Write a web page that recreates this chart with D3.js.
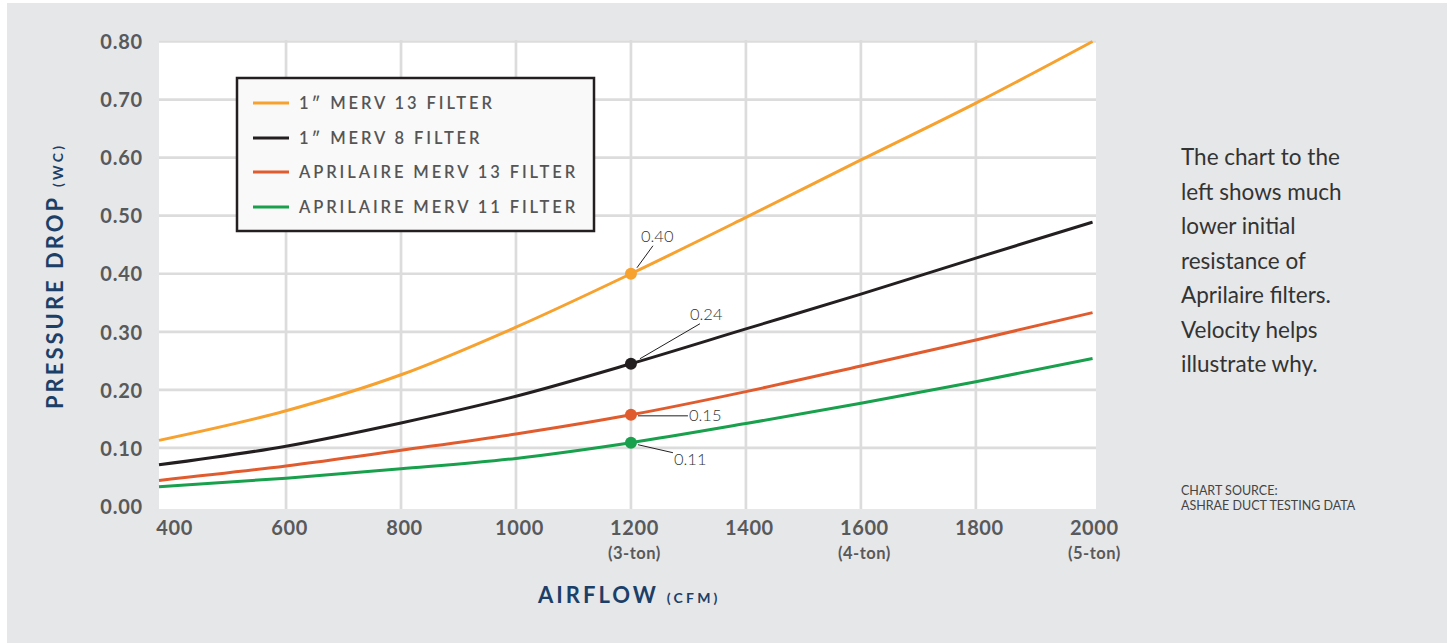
<!DOCTYPE html>
<html>
<head>
<meta charset="utf-8">
<script src="https://cdn.jsdelivr.net/npm/d3@7/dist/d3.min.js"></script>
<style>
  html, body { margin: 0; padding: 0; background: #ffffff; }
  svg { display: block; }
</style>
</head>
<body>
<svg id="chart" width="1450" height="643"></svg>
<script>
// ---------------- data ----------------
const cfm = [379, 600, 800, 1000, 1200, 1400, 1600, 1800, 2003];
const merv13OneInch = [0.113, 0.164, 0.226, 0.308, 0.400, 0.497, 0.596, 0.694, 0.800];
const merv8OneInch  = [0.071, 0.103, 0.143, 0.189, 0.245, 0.305, 0.365, 0.427, 0.489];
const aprilaire13   = [0.044, 0.069, 0.096, 0.124, 0.157, 0.197, 0.241, 0.286, 0.333];
const aprilaire11   = [0.033, 0.048, 0.064, 0.082, 0.109, 0.142, 0.177, 0.214, 0.254];
const seriesNames = ["1\u2033 MERV 13 FILTER", "1\u2033 MERV 8 FILTER", "APRILAIRE MERV 13 FILTER", "APRILAIRE MERV 11 FILTER"];
const seriesColors = ["#f7a12f", "#231f20", "#e05c2e", "#18a04d"];
const highlightCfm = 1200;
const highlightLabels = ["0.40", "0.24", "0.15", "0.11"];
const xTicks = [400, 600, 800, 1000, 1200, 1400, 1600, 1800, 2000];
const xSubLabels = {1200: "(3-ton)", 1600: "(4-ton)", 2000: "(5-ton)"};
const yTicks = [0, 0.1, 0.2, 0.3, 0.4, 0.5, 0.6, 0.7, 0.8];
const sideText = ["The chart to the", "left shows much", "lower initial", "resistance of", "Aprilaire filters.", "Velocity helps", "illustrate why."];
const sourceText = ["CHART SOURCE:", "ASHRAE DUCT TESTING DATA"];

const seriesValues = [merv13OneInch, merv8OneInch, aprilaire13, aprilaire11];

// ---------------- layout ----------------
const svg = d3.select("#chart");
const plotLeft = 159, plotRight = 1096, plotTop = 40, plotBottom = 509;
const x = d3.scaleLinear().domain([379, 2009]).range([plotLeft, plotRight]);
const y = d3.scaleLinear().domain([0, 0.8]).range([506, 41.5]);

const navy = "#1c3f68";
const tickGray = "#58595b";

svg.append("rect").attr("x", 7).attr("y", 3).attr("width", 1440).attr("height", 640).attr("fill", "#e6e7e9");
svg.append("rect").attr("x", plotLeft).attr("y", plotTop).attr("width", plotRight - plotLeft).attr("height", plotBottom - plotTop).attr("fill", "#ffffff");

// gridlines
const grid = svg.append("g");
grid.selectAll("line.h").data(yTicks.filter(d => d > 0)).join("line")
  .attr("x1", plotLeft).attr("x2", plotRight)
  .attr("y1", d => y(d)).attr("y2", d => y(d))
  .attr("stroke", "#dcdcdd").attr("stroke-width", 2.7);
grid.selectAll("line.v").data(xTicks.filter(d => d > 400 && d < 2000)).join("line")
  .attr("x1", d => x(d)).attr("x2", d => x(d))
  .attr("y1", plotTop).attr("y2", plotBottom)
  .attr("stroke", "#dcdcdd").attr("stroke-width", 2.7);

// axes (labels only)
const yAxis = d3.axisLeft(y).tickValues(yTicks).tickFormat(d3.format(".2f")).tickSize(0).tickPadding(0);
const gy = svg.append("g").attr("transform", `translate(143,0)`).call(yAxis);
gy.select(".domain").remove();
gy.selectAll("text").attr("font-family", "Lato, sans-serif").attr("font-weight", 700)
  .attr("font-size", 20).attr("fill", tickGray).attr("letter-spacing", 0.8).attr("dy", "0.36em");

const xAxis = d3.axisBottom(x).tickValues(xTicks).tickFormat(d3.format("d")).tickSize(0).tickPadding(0);
const gx = svg.append("g").attr("transform", `translate(3,521)`).call(xAxis);
gx.select(".domain").remove();
gx.selectAll("text").attr("font-family", "Lato, sans-serif").attr("font-weight", 700)
  .attr("font-size", 20).attr("fill", tickGray).attr("letter-spacing", 0.6).attr("dy", "0.72em");
gx.selectAll(".tick").filter(d => xSubLabels[d]).append("text")
  .attr("y", 38).attr("text-anchor", "middle")
  .attr("font-family", "Lato, sans-serif").attr("font-weight", 700).attr("font-size", 16.5)
  .attr("fill", tickGray).attr("letter-spacing", 0.5)
  .text(d => xSubLabels[d]);

// axis titles
const xt = svg.append("text").attr("x", 538).attr("y", 603)
  .attr("font-family", "Lato, sans-serif").attr("font-weight", 700).attr("fill", navy);
xt.append("tspan").attr("font-size", 22).attr("letter-spacing", 3.0).text("AIRFLOW");
xt.append("tspan").attr("font-size", 14).attr("letter-spacing", 3.2).attr("dx", 8).text("(CFM)");

const yt = svg.append("text").attr("transform", "translate(63,409) rotate(-90)")
  .attr("font-family", "Lato, sans-serif").attr("font-weight", 700).attr("fill", navy);
yt.append("tspan").attr("font-size", 22).attr("letter-spacing", 3.0).text("PRESSURE DROP");
yt.append("tspan").attr("font-size", 14).attr("letter-spacing", 3.2).attr("dx", 8).text("(WC)");

// lines
const line = d3.line().x((d, i) => x(cfm[i])).y(d => y(d)).curve(d3.curveMonotoneX);
svg.append("g").selectAll("path").data(seriesValues).join("path")
  .attr("d", d => line(d))
  .attr("fill", "none")
  .attr("stroke", (d, i) => seriesColors[i])
  .attr("stroke-width", 3);

// highlight points & annotations
const hi = cfm.indexOf(highlightCfm);
const annoLayout = [
  {lx1: 6, ly1: -6, lx2: 22, ly2: -28, tx: 10, ty: -32},
  {lx1: 9, ly1: -5, lx2: 69, ly2: -40, tx: 59, ty: -44},
  {lx1: 7, ly1: 1, lx2: 57, ly2: 1, tx: 58, ty: 6},
  {lx1: 7, ly1: 2, lx2: 42, ly2: 10, tx: 43, ty: 22}
];
const ag = svg.append("g");
seriesValues.forEach((vals, i) => {
  const cx = x(cfm[hi]), cy = y(vals[hi]);
  const L = annoLayout[i];
  ag.append("line").attr("x1", cx + L.lx1).attr("y1", cy + L.ly1).attr("x2", cx + L.lx2).attr("y2", cy + L.ly2)
    .attr("stroke", "#231f20").attr("stroke-width", 1);
  ag.append("circle").attr("cx", cx).attr("cy", cy).attr("r", 6).attr("fill", seriesColors[i]);
  ag.append("text").attr("x", cx + L.tx).attr("y", cy + L.ty)
    .attr("font-family", "Lato, sans-serif").attr("font-weight", 300).attr("font-size", 16.5)
    .attr("fill", "#333333").text(highlightLabels[i]);
});

// legend
const lg = svg.append("g");
lg.append("rect").attr("x", 237).attr("y", 78).attr("width", 357).attr("height", 153)
  .attr("fill", "#f9f9f9").attr("stroke", "#231f20").attr("stroke-width", 2.5);
const legendY = [103, 138, 172, 207];
seriesNames.forEach((name, i) => {
  lg.append("line").attr("x1", 253).attr("x2", 289).attr("y1", legendY[i]).attr("y2", legendY[i])
    .attr("stroke", seriesColors[i]).attr("stroke-width", 3);
  lg.append("text").attr("x", 299).attr("y", legendY[i] + 6)
    .attr("font-family", "Lato, sans-serif").attr("font-weight", 600).attr("font-size", 16.5)
    .attr("letter-spacing", 2.9).attr("fill", "#555555").text(name);
});

// side text
svg.append("g").selectAll("text").data(sideText).join("text")
  .attr("x", 1181).attr("y", (d, i) => 165 + i * 34.5)
  .attr("font-family", "Lato, sans-serif").attr("font-weight", 400).attr("font-size", 22.5)
  .attr("fill", "#333333").text(d => d);

svg.append("g").selectAll("text").data(sourceText).join("text")
  .attr("x", 1181).attr("y", (d, i) => 495 + i * 15)
  .attr("font-family", "Lato, sans-serif").attr("font-weight", 400).attr("font-size", 12.5)
  .attr("fill", "#444444").text(d => d);
</script>
</body>
</html>
